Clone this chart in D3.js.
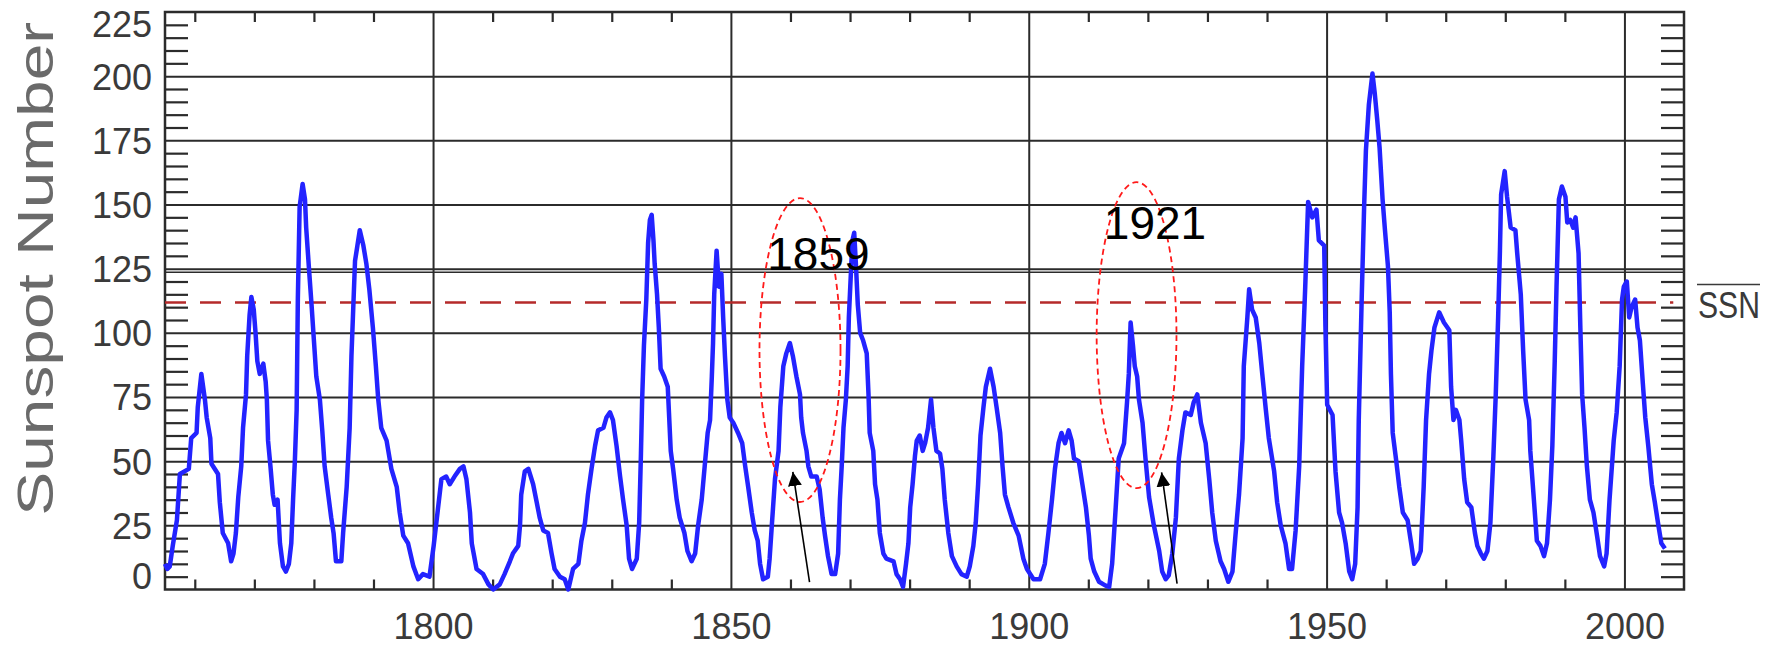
<!DOCTYPE html>
<html>
<head>
<meta charset="utf-8">
<script src="https://cdn.jsdelivr.net/npm/d3@7"></script>
<style>
  html, body { margin: 0; padding: 0; background: #fff; }
  svg { display: block; }
  text { font-family: "Liberation Sans", Arial, sans-serif; }
</style>
</head>
<body>
<svg id="chart" width="1773" height="647"></svg>
<script>
// ---- data ----
const years = [
  1755.0,1755.4,1755.8,1756.3,1757.0,1757.5,1759.0,1759.4,1760.3,1760.5,1761.1,1761.7,1762.0,1762.6,1762.8,1763.9,1764.2,1764.7,1765.6,1766.1,
  1766.5,1766.9,1767.3,1767.8,1768.1,1768.6,1768.8,1769.2,1769.5,1769.9,1770.2,1770.5,1770.9,1771.5,1771.9,1772.1,1772.3,1772.7,1773.1,1773.4,
  1773.9,1774.3,1774.8,1775.3,1775.8,1776.2,1776.5,1776.8,1777.1,1777.3,1777.6,1778.1,1778.5,1778.7,1779.2,1779.6,1780.0,1780.4,1781.0,1781.4,
  1781.8,1782.4,1782.9,1783.3,1783.7,1784.6,1784.9,1785.5,1786.0,1786.3,1786.9,1787.3,1787.7,1788.3,1788.8,1789.3,1789.9,1790.4,1790.8,1791.3,
  1792.2,1793.0,1793.9,1794.4,1795.0,1795.8,1796.7,1797.5,1798.3,1799.4,1800.1,1800.8,1801.4,1802.2,1802.8,1803.6,1804.5,1805.1,1805.6,1806.2,
  1806.5,1807.3,1808.4,1809.3,1810.1,1811.2,1812.0,1812.9,1813.4,1814.3,1814.6,1814.8,1815.4,1816.0,1816.8,1817.4,1817.9,1818.5,1819.3,1819.9,
  1820.4,1821.3,1822.1,1822.7,1823.5,1824.4,1824.9,1825.5,1826.0,1826.6,1827.2,1827.7,1828.6,1829.1,1829.7,1830.2,1830.8,1831.4,1831.9,1832.5,
  1832.9,1833.4,1834.2,1834.6,1834.9,1835.1,1835.4,1835.8,1836.1,1836.4,1836.7,1837.0,1837.2,1837.6,1837.9,1838.2,1838.8,1839.4,1839.6,1839.9,
  1840.3,1840.9,1841.4,1842.2,1842.7,1843.4,1844.0,1844.5,1845.1,1845.6,1846.1,1846.5,1846.8,1847.0,1847.2,1847.6,1848.0,1848.4,1848.7,1849.0,
  1849.4,1849.8,1850.4,1851.2,1851.9,1852.4,1852.9,1853.5,1854.0,1854.5,1854.9,1855.4,1856.2,1856.5,1856.9,1857.4,1858.0,1858.3,1858.8,1859.3,
  1859.9,1860.4,1861.0,1861.6,1861.8,1862.1,1862.7,1863.0,1863.5,1864.4,1864.9,1865.4,1865.8,1866.3,1866.9,1867.5,1868.0,1868.3,1868.6,1868.9,
  1869.3,1869.6,1869.8,1870.1,1870.4,1870.7,1871.0,1871.3,1871.7,1872.2,1872.8,1873.1,1873.3,1873.9,1874.2,1874.6,1875.0,1875.6,1876.1,1877.3,
  1877.8,1878.4,1878.9,1879.4,1879.8,1880.1,1880.5,1880.9,1881.2,1881.7,1882.2,1882.6,1883.1,1883.6,1884.0,1884.5,1885.1,1885.5,1885.9,1886.5,
  1887.1,1887.9,1888.7,1889.6,1890.1,1890.7,1891.1,1891.5,1891.9,1892.4,1892.8,1893.5,1894.1,1894.6,1895.2,1895.6,1896.0,1896.6,1897.4,1898.3,
  1899.1,1899.7,1900.8,1901.9,1902.7,1903.3,1903.9,1904.4,1905.0,1905.5,1906.1,1906.7,1907.2,1907.6,1908.4,1909.0,1909.6,1910.1,1910.4,1911.0,
  1911.8,1912.9,1913.5,1914.0,1914.6,1915.1,1916.0,1916.5,1916.8,1917.1,1917.5,1917.8,1918.2,1918.5,1919.1,1919.6,1920.2,1921.0,1921.9,1922.4,
  1923.0,1923.5,1924.1,1924.7,1925.2,1925.8,1926.3,1927.2,1927.7,1928.3,1928.9,1929.7,1930.3,1930.8,1931.4,1932.2,1932.8,1933.5,1934.2,1934.7,
  1935.3,1935.9,1936.1,1936.7,1937.0,1937.5,1938.1,1938.7,1939.2,1939.8,1940.3,1941.2,1941.7,1942.3,1943.1,1943.7,1944.2,1944.8,1945.4,1945.9,
  1946.4,1946.9,1947.6,1948.3,1948.7,1949.6,1949.8,1950.1,1951.0,1951.5,1952.1,1952.6,1953.2,1953.8,1954.3,1954.8,1955.2,1955.4,1955.9,1956.3,
  1956.6,1957.1,1957.7,1958.1,1958.5,1958.9,1959.4,1959.8,1960.3,1960.6,1960.8,1961.1,1961.7,1962.2,1962.8,1963.6,1964.2,1964.7,1965.3,1965.8,
  1966.3,1966.7,1967.2,1967.6,1968.1,1968.9,1969.7,1970.6,1970.9,1971.3,1971.7,1972.3,1972.6,1973.1,1973.6,1974.3,1974.9,1975.3,1975.9,1976.4,
  1977.0,1977.5,1978.0,1978.4,1978.8,1979.1,1979.3,1979.9,1980.3,1980.9,1981.7,1982.0,1982.6,1983.0,1983.4,1984.0,1984.2,1984.8,1985.3,1985.9,
  1986.5,1987.0,1987.5,1987.9,1988.3,1988.6,1989.0,1989.5,1990.1,1990.4,1990.9,1991.4,1991.8,1992.3,1992.6,1992.9,1993.3,1993.7,1994.2,1994.8,
  1995.4,1995.9,1996.6,1997.0,1997.5,1998.2,1998.7,1999.2,1999.6,1999.9,2000.4,2000.8,2001.2,2001.8,2002.2,2002.6,2003.1,2003.5,2004.0,2004.6,
  2005.1,2005.7,2006.2,2006.8
];
const sunspots = [
  10,8,9,17,27,45,47,59,61,71,84,74,67,59,49,45,34,22,18,11,
  14,22,36,48,63,76,91,107,114,109,100,89,84,88,81,74,58,48,37,33,
  35,18,9,7,10,18,35,50,70,113,149,158,152,141,124,111,97,83,74,62,
  48,37,28,22,11,11,22,40,63,91,128,134,140,134,127,117,102,87,74,63,
  58,47,40,30,21,18,9,4,6,5,17,31,43,44,41,44,47,48,43,30,
  18,8,6,2,0,2,6,11,14,17,25,37,46,47,41,34,28,23,22,14,
  8,5,4,0,8,10,19,26,37,47,56,62,63,67,69,66,56,44,35,25,
  12,8,12,26,53,74,95,113,135,144,146,136,127,115,102,86,83,79,69,54,
  47,35,28,22,15,11,14,25,35,48,61,66,83,96,115,132,118,123,106,91,
  74,67,65,61,57,48,40,30,23,19,10,4,5,12,26,43,54,71,87,92,
  96,91,83,76,67,61,54,48,44,44,39,28,21,13,6,6,14,35,48,63,
  74,87,106,121,136,139,126,111,100,97,92,76,61,54,41,35,22,14,12,11,
  6,4,1,10,18,32,41,52,58,60,54,57,63,74,63,54,53,47,35,22,
  13,9,6,5,9,17,26,41,60,71,79,86,79,71,61,48,37,32,26,21,
  12,8,4,4,10,22,35,47,57,61,57,62,58,51,50,41,32,21,12,7,
  3,1.5,1,10,32,51,57,73,84,104,95,87,83,74,65,51,36,25,15,7,
  4,5.5,14,28,51,62,69,68,73,76,65,57,43,30,19,11,8,3,7,21,
  37,59,87,106,117,109,106,96,84,70,59,46,34,25,18,8,8,23,48,87,
  117,151,145,148,136,134,103,72,68,46,30,26,18,7,4,10,32,66,114,149,
  171,189,201,193,183,172,152,140,126,108,84,61,50,40,30,27,18,10,12,15,
  40,66,84,93,102,108,104,101,79,66,70,66,58,43,34,32,22,17,14,12,
  15,26,52,76,106,132,154,163,153,141,140,131,115,93,74,66,54,35,19,17,
  13,18,35,56,89,118,152,157,153,143,144,141,145,131,102,76,63,48,35,30,
  21,13,9,14,35,58,69,87,113,118,120,106,110,113,102,97,80,67,56,41,
  34,25,18,16
];
const meanSSN = 111.8;
const yTickLabels = [0, 25, 50, 75, 100, 125, 150, 175, 200, 225];
const yGridValues = [25, 50, 75, 100, 125, 150, 175, 200];
const xTickLabels = [1800, 1850, 1900, 1950, 2000];
const xDomain = [1755, 2010];
const yDomain = [0, 225];
// annotations (in data units)
const ovalCenters = [[1861.6, 93.3], [1918.1, 99.1]];
const ovalRadii = [[6.8, 59.2], [6.7, 59.6]];
const labelTexts = ["1859", "1921"];
const labelAnchors = [[1856.1, 124.4], [1912.6, 136.5]];
const arrowStarts = [[1863.2, 2.9], [1924.9, 2.3]];
const arrowEnds = [[1860.4, 45.8], [1922.3, 45.6]];

// ---- layout ----
const svg = d3.select("#chart");
const L = 165, R = 1684, T = 12, B = 589.5;
const x = d3.scaleLinear().domain(xDomain).range([L, R]);
const y = d3.scaleLinear().domain(yDomain).range([B, T]);
const ink = "#2b2b2b";

// horizontal gridlines
const gy = svg.append("g").attr("transform", `translate(${L},0)`)
  .call(d3.axisLeft(y).tickValues(yGridValues).tickSize(-(R - L)).tickFormat(""));
gy.select(".domain").remove();
gy.selectAll("line").attr("stroke", ink).attr("stroke-width", 2);
// the doubled line seen at 125
svg.append("line").attr("x1", L).attr("x2", R)
  .attr("y1", y(125) + 3.5).attr("y2", y(125) + 3.5)
  .attr("stroke", ink).attr("stroke-width", 1.5);

// vertical gridlines
const gx = svg.append("g").attr("transform", `translate(0,${B})`)
  .call(d3.axisBottom(x).tickValues(xTickLabels).tickSize(-(B - T)).tickFormat(""));
gx.select(".domain").remove();
gx.selectAll("line").attr("stroke", ink).attr("stroke-width", 2);

// minor ticks
const yMinor = d3.range(5, 225, 5).filter(v => v % 25 !== 0);
const xMinor = d3.range(1760, 2010, 10).filter(v => v % 50 !== 0);
function styleMinor(g) { g.select(".domain").remove(); g.selectAll("line").attr("stroke", ink).attr("stroke-width", 2.2); }
svg.append("g").attr("transform", `translate(${L},0)`)
  .call(d3.axisLeft(y).tickValues(yMinor).tickSize(-23).tickFormat("")).call(styleMinor);
svg.append("g").attr("transform", `translate(${R},0)`)
  .call(d3.axisRight(y).tickValues(yMinor).tickSize(-23).tickFormat("")).call(styleMinor);
svg.append("g").attr("transform", `translate(0,${B})`)
  .call(d3.axisBottom(x).tickValues(xMinor).tickSize(-10).tickFormat("")).call(styleMinor);
svg.append("g").attr("transform", `translate(0,${T})`)
  .call(d3.axisTop(x).tickValues(xMinor).tickSize(-10).tickFormat("")).call(styleMinor);

// y tick labels
const yl = svg.append("g").attr("transform", `translate(${L},0)`)
  .call(d3.axisLeft(y).tickValues(yTickLabels).tickSize(0).tickPadding(13));
yl.select(".domain").remove();
yl.selectAll("text").attr("font-size", 36).attr("fill", "#3a3a3a")
  .attr("font-family", "'Liberation Sans', Arial, sans-serif")
  .attr("dy", d => d === 0 ? "-0.02em" : (d === 225 ? "0.68em" : "0.36em"));

// x tick labels
const xl = svg.append("g").attr("transform", `translate(0,${B})`)
  .call(d3.axisBottom(x).tickValues(xTickLabels).tickSize(0).tickPadding(24).tickFormat(d3.format("d")));
xl.select(".domain").remove();
xl.selectAll("text").attr("font-size", 36).attr("fill", "#3a3a3a")
  .attr("font-family", "'Liberation Sans', Arial, sans-serif");

// frame
svg.append("rect").attr("x", L).attr("y", T).attr("width", R - L).attr("height", B - T)
  .attr("fill", "none").attr("stroke", ink).attr("stroke-width", 2.5);

// mean SSN dashed line
svg.append("line").attr("x1", x(xDomain[0])).attr("x2", x(2008.2))
  .attr("y1", y(meanSSN)).attr("y2", y(meanSSN))
  .attr("stroke", "#b52a2a").attr("stroke-width", 2.5).attr("stroke-dasharray", "21,14");

// sunspot curve
const series = years.map((yr, i) => [yr, sunspots[i]]);
svg.append("path").datum(series)
  .attr("fill", "none").attr("stroke", "#2323ff").attr("stroke-width", 4.5)
  .attr("stroke-linejoin", "round")
  .attr("d", d3.line().x(d => x(d[0])).y(d => y(d[1])));

// SSN label with overline
const ssnY = y(meanSSN);
svg.append("text").attr("x", 1698).attr("y", ssnY + 15).text("SSN")
  .attr("font-size", 36).attr("fill", "#3a3a3a")
  .attr("textLength", 62).attr("lengthAdjust", "spacingAndGlyphs");
svg.append("line").attr("x1", 1697).attr("x2", 1760).attr("y1", ssnY - 18).attr("y2", ssnY - 18)
  .attr("stroke", "#3a3a3a").attr("stroke-width", 1.6);

// y axis title
svg.append("text").attr("transform", `translate(53,${(T + B) / 2 - 32}) rotate(-90)`)
  .attr("text-anchor", "middle").text("Sunspot Number")
  .attr("font-size", 50).attr("fill", "#6a6a6a")
  .attr("textLength", 494).attr("lengthAdjust", "spacingAndGlyphs");

// annotations: ovals
svg.selectAll("ellipse.oval").data(ovalCenters).join("ellipse").attr("class", "oval")
  .attr("cx", d => x(d[0])).attr("cy", d => y(d[1]))
  .attr("rx", (d, i) => x(xDomain[0] + ovalRadii[i][0]) - x(xDomain[0]))
  .attr("ry", (d, i) => y(0) - y(ovalRadii[i][1]))
  .attr("fill", "none").attr("stroke", "#ff1a1a").attr("stroke-width", 1.8)
  .attr("stroke-dasharray", "6,4");

// year labels
svg.selectAll("text.yr").data(labelTexts).join("text").attr("class", "yr")
  .attr("x", (d, i) => x(labelAnchors[i][0])).attr("y", (d, i) => y(labelAnchors[i][1]))
  .text(d => d).attr("font-size", 46).attr("fill", "#000");

// arrows
const defs = svg.append("defs");
defs.append("marker").attr("id", "ah").attr("viewBox", "0 0 10 10")
  .attr("refX", 10).attr("refY", 5).attr("markerWidth", 14).attr("markerHeight", 14)
  .attr("markerUnits", "userSpaceOnUse").attr("orient", "auto")
  .append("path").attr("d", "M0,0 L10,5 L0,10 Z").attr("fill", "#000");
svg.selectAll("line.arrow").data(arrowStarts).join("line").attr("class", "arrow")
  .attr("x1", d => x(d[0])).attr("y1", d => y(d[1]))
  .attr("x2", (d, i) => x(arrowEnds[i][0])).attr("y2", (d, i) => y(arrowEnds[i][1]))
  .attr("stroke", "#000").attr("stroke-width", 1.6).attr("marker-end", "url(#ah)");
</script>
</body>
</html>
